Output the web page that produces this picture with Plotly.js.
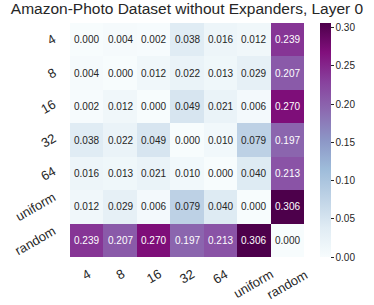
<!DOCTYPE html>
<html>
<head>
<meta charset="utf-8">
<script src="https://cdn.plot.ly/plotly-3.0.1.min.js"></script>
<style>html,body{margin:0;padding:0;background:#fff;}#chart{width:374px;height:305px;}</style>
</head>
<body>
<div id="chart"></div>
<script>
const labels = ["4", "8", "16", "32", "64", "uniform", "random"];
const row4 = [0.000, 0.004, 0.002, 0.038, 0.016, 0.012, 0.239];
const row8 = [0.004, 0.000, 0.012, 0.022, 0.013, 0.029, 0.207];
const row16 = [0.002, 0.012, 0.000, 0.049, 0.021, 0.006, 0.270];
const row32 = [0.038, 0.022, 0.049, 0.000, 0.010, 0.079, 0.197];
const row64 = [0.016, 0.013, 0.021, 0.010, 0.000, 0.040, 0.213];
const rowUniform = [0.012, 0.029, 0.006, 0.079, 0.040, 0.000, 0.306];
const rowRandom = [0.239, 0.207, 0.270, 0.197, 0.213, 0.306, 0.000];
const colorbarTicks = [0.00, 0.05, 0.10, 0.15, 0.20, 0.25, 0.30];

const z = [row4, row8, row16, row32, row64, rowUniform, rowRandom];
const idx = labels.map((_, i) => i);
const bupu = ["#f7fcfd","#e0ecf4","#bfd3e6","#9ebcda","#8c96c6","#8c6bb1","#88419d","#810f7c","#4d004b"];
const colorscale = bupu.map((c, i) => [i / (bupu.length - 1), c]);
const zmax = 0.306;
const FONT = 'Liberation Sans, Arial, sans-serif';

const annotations = [];
z.forEach((row, i) => {
  row.forEach((v, j) => {
    annotations.push({
      x: idx[j], y: idx[i], xref: 'x', yref: 'y',
      text: v.toFixed(3), showarrow: false,
      font: {family: FONT, size: 10, color: v > 0.15 ? '#ffffff' : '#262626'}
    });
  });
});
// tick labels, rotated about their centre (matplotlib style)
labels.forEach((lab, j) => {
  annotations.push({
    x: idx[j], xref: 'x', y: 0, yref: 'paper',
    xanchor: 'center', yanchor: 'top', yshift: -7,
    text: lab, textangle: -30, showarrow: false,
    font: {family: FONT, size: 13, color: '#262626'}
  });
  annotations.push({
    x: 0, xref: 'paper', y: idx[j], yref: 'y',
    xanchor: 'right', yanchor: 'middle', xshift: -9,
    text: lab, textangle: -30, showarrow: false,
    font: {family: FONT, size: 13, color: '#262626'}
  });
});

const data = [{
  type: 'heatmap',
  x: idx, y: idx, z: z,
  colorscale: colorscale, zmin: 0, zmax: zmax,
  xgap: 0, ygap: 0,
  hoverinfo: 'skip',
  colorbar: {
    x: 1.068, xanchor: 'left', xpad: 0, ypad: 0,
    y: 0.5, yanchor: 'middle', len: 1, lenmode: 'fraction',
    thickness: 11, outlinewidth: 0,
    tickvals: colorbarTicks, ticktext: colorbarTicks.map(v => v.toFixed(2)),
    ticks: 'outside', ticklen: 3, tickwidth: 1, tickcolor: '#262626',
    tickfont: {family: FONT, size: 10, color: '#262626'}
  }
}];

const layout = {
  width: 374, height: 305,
  margin: {l: 70, r: 70, t: 23, b: 48, pad: 0},
  paper_bgcolor: '#ffffff', plot_bgcolor: '#ffffff',
  title: {
    text: 'Amazon-Photo Dataset without Expanders, Layer 0',
    font: {family: FONT, size: 15.5, color: '#262626'},
    x: 0.5, xref: 'paper', xanchor: 'center', y: 1, yref: 'container', yanchor: 'top', pad: {t: 3}
  },
  xaxis: {
    range: [-0.5, 6.5], tickvals: idx, showticklabels: false,
    showgrid: false, zeroline: false, showline: false, ticks: ''
  },
  yaxis: {
    range: [6.5, -0.5], tickvals: idx, showticklabels: false,
    showgrid: false, zeroline: false, showline: false, ticks: ''
  },
  annotations: annotations,
  font: {family: FONT, color: '#262626'}
};

Plotly.newPlot('chart', data, layout, {displayModeBar: false, staticPlot: true});
</script>
</body>
</html>
